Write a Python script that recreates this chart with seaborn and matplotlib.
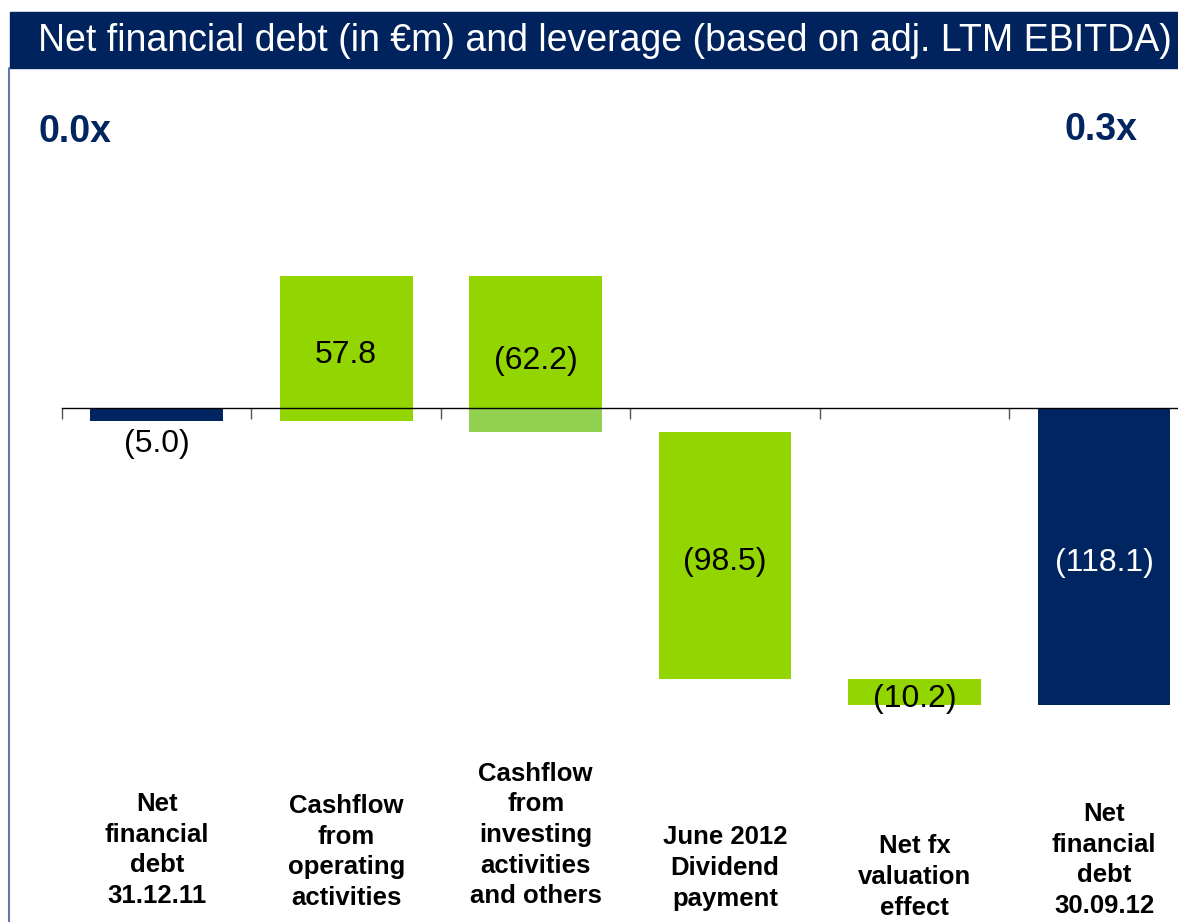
import numpy as np
import matplotlib
matplotlib.use("Agg")
import matplotlib.pyplot as plt
import matplotlib.transforms as mtransforms
from matplotlib.patches import Rectangle
import seaborn as sns

# data (in EUR m)
categories = ["Net\nfinancial\ndebt\n31.12.11",
              "Cashflow\nfrom\noperating\nactivities",
              "Cashflow\nfrom\ninvesting\nactivities\nand others",
              "June 2012\nDividend\npayment",
              "Net fx\nvaluation\neffect",
              "Net\nfinancial\ndebt\n30.09.12"]
changes = [-5.0, 57.8, -62.2, -98.5, -10.2, -118.1]
is_total = [True, False, False, False, False, True]
value_labels = ["(5.0)", "57.8", "(62.2)", "(98.5)", "(10.2)", "(118.1)"]
lev_start = "0.0x"
lev_end = "0.3x"
title = "Net financial debt (in \u20acm) and leverage (based on adj. LTM EBITDA)"

NAVY = "#002561"
GREEN = "#93d500"
LIGHT_GREEN = "#92d050"

# waterfall bottoms / heights
bottoms, heights = [], []
running = 0.0
for c, tot in zip(changes, is_total):
    if tot:
        bottoms.append(0.0)
        heights.append(c)
        running = c
    else:
        bottoms.append(running)
        heights.append(c)
        running += c
bottoms = np.array(bottoms)
heights = np.array(heights)
tops = bottoms + heights

sns.set_style("white")
plt.rcParams['font.family'] = ['Liberation Sans', 'DejaVu Sans']

fig = plt.figure(figsize=(11.78, 9.22), dpi=100)
ax = fig.add_axes([62 / 1178, (922 - 760) / 922, 1 - 62 / 1178, 620 / 922])

idx = np.arange(len(categories))
sns.barplot(x=idx, y=heights, bottom=bottoms, color=NAVY, width=0.7,
            saturation=1, linewidth=0, ax=ax, native_scale=True)
for p, tot in zip(ax.patches, is_total):
    p.set_facecolor(NAVY if tot else GREEN)

# investing bar: part below zero drawn in a lighter green
below = [t if (not tot and c < 0 and b > 0 > t) else 0
         for b, t, tot, c in zip(bottoms, tops, is_total, changes)]
sns.barplot(x=idx, y=below, color=LIGHT_GREEN, width=0.7, saturation=1,
            linewidth=0, ax=ax, native_scale=True)

ax.set_xlim(-0.5, 5.39)
ax.set_ylim(-140.2, 106.8)
ax.set_xlabel("")
ax.set_ylabel("")
ax.set_yticks([])
for s in ["top", "right", "left"]:
    ax.spines[s].set_visible(False)
ax.spines["bottom"].set_position(("data", 0))
ax.spines["bottom"].set_color("black")
ax.spines["bottom"].set_linewidth(1)
ax.spines["bottom"].set_zorder(5)
ax.set_xticks(np.arange(len(categories)) - 0.5)
ax.set_xticklabels([])
ax.tick_params(axis="x", direction="out", length=8, width=1, color="#555555", bottom=True)

# value labels
for i, (b, t, lab) in enumerate(zip(bottoms, tops, value_labels)):
    if i == 0:
        ax.annotate(lab, (i, min(b, t)), xytext=(0, -6), textcoords="offset points",
                    ha="center", va="top", fontsize=23, color="black")
    else:
        col = "white" if is_total[i] else "black"
        ax.annotate(lab, (i, (b + t) / 2), xytext=(0, -5), textcoords="offset points",
                    ha="center", va="center", fontsize=23, color=col, zorder=6)

# category labels below the chart
trans = mtransforms.blended_transform_factory(ax.transData, fig.transFigure)
label_y = [850, 852, 835, 868, 877, 860]
for i, (cat, yy) in enumerate(zip(categories, label_y)):
    ax.text(i, 1 - yy / 922, cat, transform=trans, ha="center", va="center",
            fontsize=18.5, fontweight="bold", linespacing=1.35, color="black")

# header band and frame
fig.patches.append(Rectangle((10 / 1178, 1 - 68 / 922), 1, 56 / 922,
                             transform=fig.transFigure, color="#00235e", zorder=0))
fig.text(38 / 1178, 1 - 41 / 922, title, color="white", fontsize=27, ha="left", va="center")
fig.add_artist(plt.Line2D([9 / 1178, 9 / 1178], [0, 1 - 68 / 922], transform=fig.transFigure,
                          color="#5b7bb0", lw=1.5))

# leverage labels
fig.text(38 / 1178, 1 - 132 / 922, lev_start, color=NAVY, fontsize=27, fontweight="bold",
         ha="left", va="center")
fig.text(1138 / 1178, 1 - 130 / 922, lev_end, color=NAVY, fontsize=27, fontweight="bold",
         ha="right", va="center")

fig.savefig("out.png", dpi=100)
